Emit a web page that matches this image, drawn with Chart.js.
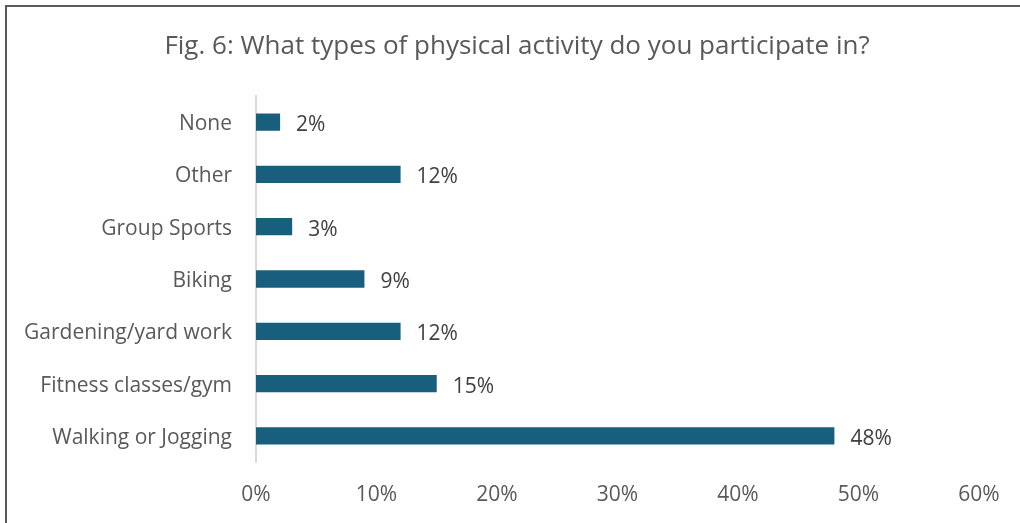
<!DOCTYPE html>
<html>
<head>
<meta charset="utf-8">
<script src="https://cdn.jsdelivr.net/npm/chart.js@4/dist/chart.umd.min.js"></script>
<style>
  html, body { margin: 0; padding: 0; background: #ffffff; }
  #wrap { position: relative; width: 1020px; height: 523px; overflow: hidden; }
  #frame { position: absolute; left: 5px; top: 5px; width: 1100px; height: 600px;
           border-left: 2px solid #595959; border-top: 2px solid #595959; box-sizing: border-box; }
  canvas { position: absolute; left: 0; top: 0; }
</style>
</head>
<body>
<div id="wrap">
  <div id="frame"></div>
  <canvas id="c" width="1020" height="523"></canvas>
</div>
<script>
// Survey responses: share of respondents by activity type (%)
const activities = [
  'None',
  'Other',
  'Group Sports',
  'Biking',
  'Gardening/yard work',
  'Fitness classes/gym',
  'Walking or Jogging'
];
const shares = [2, 12, 3, 9, 12, 15, 48];
const axisTicks = [0, 10, 20, 30, 40, 50, 60];
const chartTitle = 'Fig. 6: What types of physical activity do you participate in?';

const FONT = '"Open Sans", Lato, sans-serif';
const TEXT = '#595959';

// Heading centred across the whole figure, above the plot area
const heading = {
  id: 'heading',
  afterDraw(chart) {
    const ctx = chart.ctx;
    ctx.save();
    ctx.font = '26px ' + FONT;
    ctx.fillStyle = TEXT;
    ctx.textAlign = 'center';
    ctx.textBaseline = 'middle';
    ctx.fillText(chartTitle, 517, 47);
    ctx.restore();
  }
};

// Writes the percentage just past the end of each bar
const valueLabels = {
  id: 'valueLabels',
  afterDatasetsDraw(chart) {
    const ctx = chart.ctx;
    const meta = chart.getDatasetMeta(0);
    ctx.save();
    ctx.font = '21px ' + FONT;
    ctx.fillStyle = '#404040';
    ctx.textAlign = 'left';
    ctx.textBaseline = 'middle';
    meta.data.forEach((bar, i) => {
      ctx.fillText(shares[i] + '%', bar.x + 16, bar.y + 3);
    });
    ctx.restore();
  }
};

new Chart(document.getElementById('c'), {
  type: 'bar',
  data: {
    labels: activities,
    datasets: [{
      data: shares,
      backgroundColor: '#185F7E',
      barPercentage: 0.66,
      categoryPercentage: 0.5
    }]
  },
  options: {
    indexAxis: 'y',
    responsive: false,
    animation: false,
    layout: { padding: { left: 0, right: 41, top: 96, bottom: 0 } },
    plugins: {
      legend: { display: false },
      tooltip: { enabled: false },
      title: { display: false }
    },
    scales: {
      x: {
        min: 0,
        max: 60,
        afterBuildTicks(scale) {
          scale.ticks = axisTicks.map(v => ({ value: v }));
        },
        grid: { display: false, drawTicks: false },
        border: { display: false },
        ticks: {
          color: TEXT,
          font: { family: FONT, size: 21 },
          padding: 20,
          callback: v => v + '%'
        },
        afterFit(scale) { scale.height = 61; }
      },
      y: {
        grid: { display: false, drawTicks: false },
        border: { display: true, color: '#d9d9d9', width: 2 },
        ticks: {
          color: TEXT,
          font: { family: FONT, size: 21 },
          padding: 24,
          labelOffset: 2
        },
        afterFit(scale) { scale.width = 256; }
      }
    }
  },
  plugins: [valueLabels, heading]
});
</script>
</body>
</html>
